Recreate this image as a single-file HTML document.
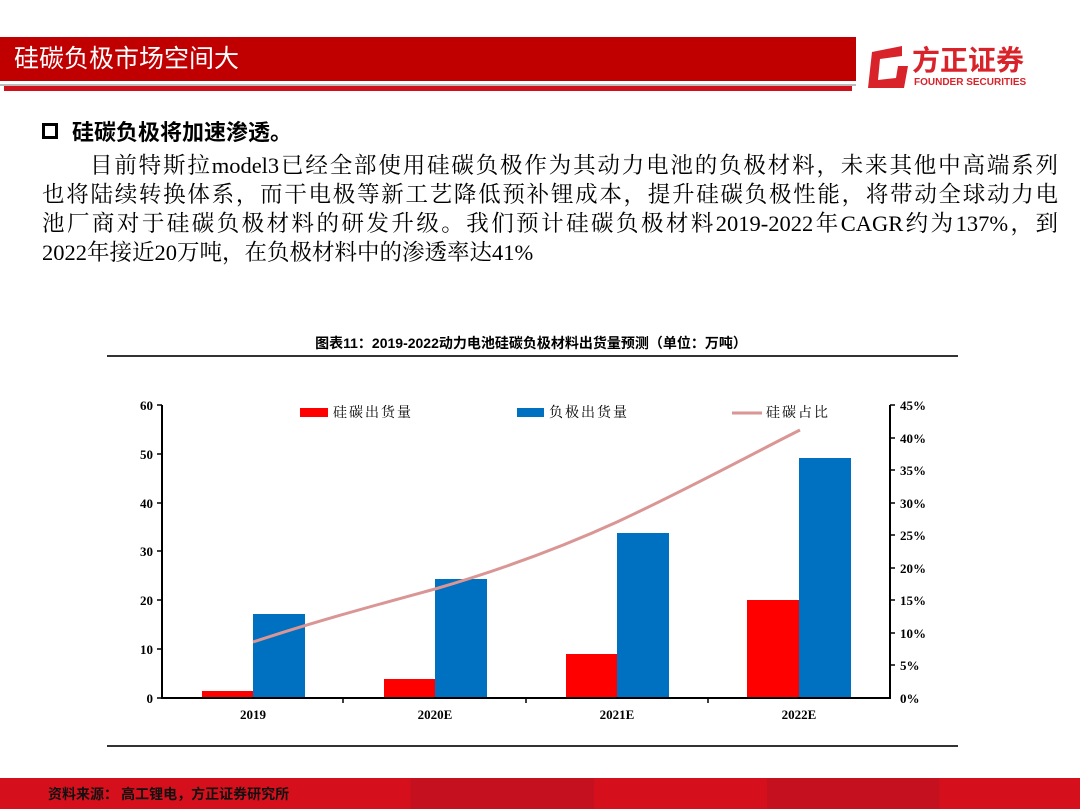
<!DOCTYPE html>
<html><head><meta charset="utf-8"><style>
body{margin:0;width:1080px;height:809px;overflow:hidden;background:#fff;position:relative;font-family:"Liberation Serif","Noto Serif CJK SC",serif;}
.a{position:absolute;}
.l{position:absolute;left:42px;width:1016px;font-size:22.5px;line-height:29px;text-align:justify;text-align-last:justify;white-space:nowrap;}
</style></head><body>
<div class="a" style="left:0;top:37px;width:856px;height:44px;background:#c00000;"></div>
<div class="a" style="left:14px;top:41px;color:#fff;font-size:25px;font-family:'Liberation Sans','Noto Sans CJK SC',sans-serif;line-height:36px;">硅碳负极市场空间大</div>
<div class="a" style="left:0;top:84px;width:856px;height:2px;background:#bbb;"></div>
<div class="a" style="left:4px;top:86px;width:848px;height:5px;background:#d0101a;"></div>
<svg class="a" style="left:864px;top:44px" width="50" height="46"><path d="M8 8 L38 2 L38 12 L16 15 L14 36 L32 34 L34 22 L44 22 L40 44 L4 44 Z" fill="#d8232a"/></svg>
<div class="a" style="left:912px;top:42px;color:#d8232a;font-size:28px;font-weight:bold;font-family:'Noto Sans CJK SC',sans-serif;line-height:34px;">方正证券</div>
<div class="a" style="left:914px;top:77px;color:#d8232a;font-size:10px;font-weight:bold;font-family:'Liberation Sans',sans-serif;">FOUNDER SECURITIES</div>

<div class="a" style="left:42px;top:123px;width:16px;height:16px;border:3px solid #000;box-sizing:border-box;"></div>
<div class="a" style="left:72px;top:118px;font-size:22px;font-weight:bold;font-family:'Liberation Sans','Noto Sans CJK SC',sans-serif;line-height:30px;">硅碳负极将加速渗透。</div>
<div class="l" style="top:151px;left:90px;width:968px;">目前特斯拉model3已经全部使用硅碳负极作为其动力电池的负极材料，未来其他中高端系列</div>
<div class="l" style="top:180px;">也将陆续转换体系，而干电极等新工艺降低预补锂成本，提升硅碳负极性能，将带动全球动力电</div>
<div class="l" style="top:209px;">池厂商对于硅碳负极材料的研发升级。我们预计硅碳负极材料2019-2022年CAGR约为137%，到</div>
<div class="l" style="top:238px;text-align-last:left;">2022年接近20万吨，在负极材料中的渗透率达41%</div>

<svg class="a" style="left:0;top:0" width="1080" height="809" font-family="Liberation Serif,Noto Serif CJK SC,serif">
<text x="531" y="348" text-anchor="middle" font-size="14" font-weight="bold" font-family="Liberation Sans,Noto Sans CJK SC,sans-serif">图表11：2019-2022动力电池硅碳负极材料出货量预测（单位：万吨）</text>
<line x1="107" y1="356" x2="958" y2="356" stroke="#333" stroke-width="2"/>
<line x1="107" y1="746" x2="958" y2="746" stroke="#333" stroke-width="2"/>
<g fill="#ff0000">
<rect x="202" y="691" width="51" height="7"/><rect x="384" y="679" width="51" height="19"/><rect x="566" y="654" width="51" height="44"/><rect x="747" y="600" width="52" height="98"/></g>
<g fill="#0070c0">
<rect x="253" y="614" width="52" height="84"/><rect x="435" y="579" width="52" height="119"/><rect x="617" y="533" width="52" height="165"/><rect x="799" y="458" width="52" height="240"/></g>
<path d="M253 642 C320 620 380 604 435 589 C500 570 560 548 617 522 C690 488 750 455 800 430" fill="none" stroke="#d99694" stroke-width="3"/>
<g stroke="#000" stroke-width="2"><line x1="162" y1="405" x2="162" y2="699"/><line x1="161" y1="698" x2="891" y2="698"/><line x1="890" y1="405" x2="890" y2="699"/></g>
<g stroke="#000" stroke-width="1.5">
<line x1="157" y1="405" x2="162" y2="405"/><line x1="157" y1="454" x2="162" y2="454"/><line x1="157" y1="503" x2="162" y2="503"/><line x1="157" y1="551" x2="162" y2="551"/><line x1="157" y1="600" x2="162" y2="600"/><line x1="157" y1="649" x2="162" y2="649"/><line x1="157" y1="698" x2="162" y2="698"/>
<line x1="343" y1="698" x2="343" y2="703"/><line x1="526" y1="698" x2="526" y2="703"/><line x1="708" y1="698" x2="708" y2="703"/>
<line x1="890" y1="405" x2="895" y2="405"/><line x1="890" y1="438" x2="895" y2="438"/><line x1="890" y1="470" x2="895" y2="470"/><line x1="890" y1="503" x2="895" y2="503"/><line x1="890" y1="535" x2="895" y2="535"/><line x1="890" y1="568" x2="895" y2="568"/><line x1="890" y1="600" x2="895" y2="600"/><line x1="890" y1="633" x2="895" y2="633"/><line x1="890" y1="665" x2="895" y2="665"/></g>
<g font-size="13" font-weight="bold" text-anchor="end">
<text x="153" y="410">60</text><text x="153" y="459">50</text><text x="153" y="508">40</text><text x="153" y="556">30</text><text x="153" y="605">20</text><text x="153" y="654">10</text><text x="153" y="703">0</text></g>
<g font-size="13" font-weight="bold">
<text x="900" y="410">45%</text><text x="900" y="443">40%</text><text x="900" y="475">35%</text><text x="900" y="508">30%</text><text x="900" y="540">25%</text><text x="900" y="573">20%</text><text x="900" y="605">15%</text><text x="900" y="638">10%</text><text x="900" y="670">5%</text><text x="900" y="703">0%</text></g>
<g font-size="13" font-weight="bold" text-anchor="middle">
<text x="253" y="719">2019</text><text x="435" y="719">2020E</text><text x="617" y="719">2021E</text><text x="799" y="719">2022E</text></g>
<rect x="300" y="408" width="28" height="9" fill="#ff0000"/>
<text x="333" y="417" font-size="14" letter-spacing="2">硅碳出货量</text>
<rect x="517" y="408" width="27" height="9" fill="#0070c0"/>
<text x="549" y="417" font-size="14" letter-spacing="2">负极出货量</text>
<line x1="732" y1="413" x2="762" y2="413" stroke="#d99694" stroke-width="3"/>
<text x="766" y="417" font-size="14" letter-spacing="2">硅碳占比</text>
</svg>

<div class="a" style="left:0;top:778px;width:1080px;height:31px;background:linear-gradient(90deg,#d50f1c 0,#d50f1c 38%,#c4101f 38%,#c4101f 55%,#d50f1c 55%,#d50f1c 71%,#c4101f 71%,#c4101f 87%,#d50f1c 87%);"></div>
<div class="a" style="left:48px;top:784px;font-size:14px;font-weight:bold;font-family:'Noto Sans CJK SC',sans-serif;color:#111;line-height:20px;">资料来源：&nbsp;高工锂电，方正证券研究所</div>
</body></html>
